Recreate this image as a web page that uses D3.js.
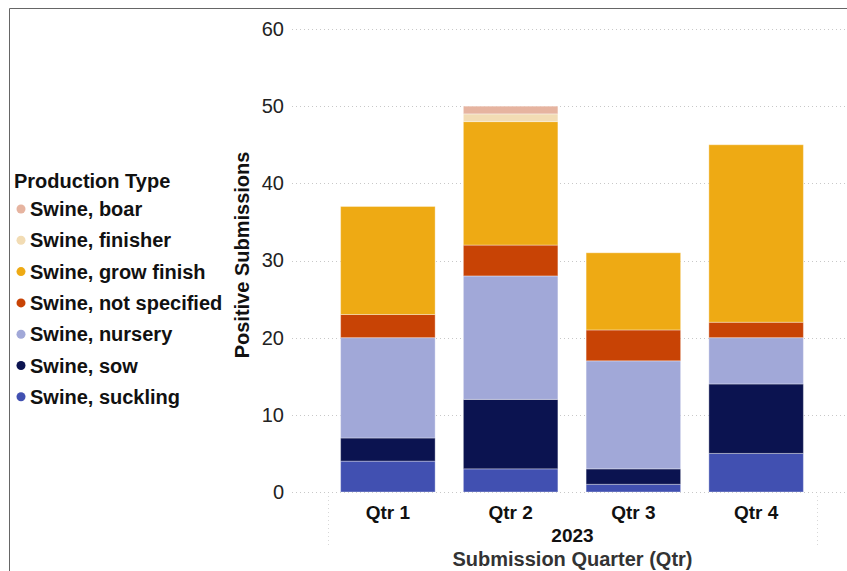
<!DOCTYPE html>
<html>
<head>
<meta charset="utf-8">
<script src="https://cdn.jsdelivr.net/npm/d3@7"></script>
<style>
  html, body { margin: 0; padding: 0; background: #fff; }
  svg { display: block; font-family: "Liberation Sans", Arial, sans-serif; }
</style>
</head>
<body>
<svg id="chart" width="847" height="571"></svg>
<script>
// Quarters on the x axis
const quarters = ["Qtr 1", "Qtr 2", "Qtr 3", "Qtr 4"];
// Production types, in stacking order from the bottom up
const types = ["Swine, suckling", "Swine, sow", "Swine, nursery", "Swine, not specified",
               "Swine, grow finish", "Swine, finisher", "Swine, boar"];
const typeColors = ["#4150b1", "#0b1350", "#a1a8d8", "#c84305", "#eeaa14", "#f2dcb4", "#e6b4a0"];
// Positive submissions per quarter for each production type
const suckling     = [4, 3, 1, 5];
const sow          = [3, 9, 2, 9];
const nursery      = [13, 16, 14, 6];
const notSpecified = [3, 4, 4, 2];
const growFinish   = [14, 16, 10, 23];
const finisher     = [0, 1, 0, 0];
const boar         = [0, 1, 0, 0];
const yTicks = [0, 10, 20, 30, 40, 50, 60];
const yearLabel = "2023";

const seriesValues = [suckling, sow, nursery, notSpecified, growFinish, finisher, boar];
const rows = quarters.map((q, i) => {
  const r = { quarter: q };
  types.forEach((t, j) => { r[t] = seriesValues[j][i]; });
  return r;
});

const svg = d3.select("#chart");
const W = 847, H = 571;
const FONT = "'Liberation Sans', Arial, sans-serif";

// outer frame
svg.append("path")
  .attr("d", `M9.5,${H} V8.5 H${W}`)
  .attr("fill", "none").attr("stroke", "#666").attr("stroke-width", 1);

const x = d3.scaleBand().domain(quarters).range([326.5, 817.5]).paddingInner(0.23).paddingOuter(0.115);
const y = d3.scaleLinear().domain([0, 60]).range([492, 29]);
const color = d3.scaleOrdinal().domain(types).range(typeColors);

// horizontal dotted gridlines
svg.append("g").selectAll("line").data(yTicks).join("line")
  .attr("x1", 292).attr("x2", W)
  .attr("y1", d => Math.round(y(d)) + 0.5).attr("y2", d => Math.round(y(d)) + 0.5)
  .attr("stroke", "#c8c8c8").attr("stroke-width", 1).attr("stroke-dasharray", "1,3");

// vertical dotted edges of the x band area
svg.append("g").selectAll("line").data([328, 817]).join("line")
  .attr("x1", d => d + 0.5).attr("x2", d => d + 0.5)
  .attr("y1", 496).attr("y2", 545)
  .attr("stroke", "#d8d8d8").attr("stroke-dasharray", "1,3");

// y axis ticks
const yAxis = d3.axisLeft(y).tickValues(yTicks).tickSize(0).tickPadding(0);
const yg = svg.append("g").attr("transform", "translate(284,0)").call(yAxis);
yg.select(".domain").remove();
yg.selectAll("text").attr("font-size", 20).attr("fill", "#222").attr("font-family", FONT);

// stacked bars
const stack = d3.stack().keys(types)(rows);
svg.append("g").selectAll("g").data(stack).join("g")
  .attr("fill", d => color(d.key))
  .selectAll("rect").data(d => d.filter(p => p[1] - p[0] > 0)).join("rect")
  .attr("x", d => x(d.data.quarter))
  .attr("width", x.bandwidth())
  .attr("y", d => y(d[1]))
  .attr("height", d => y(d[0]) - y(d[1]))
  .attr("stroke", "rgba(255,255,255,0.35)").attr("stroke-width", 1);

// x axis labels
const xAxis = d3.axisBottom(x).tickSize(0).tickPadding(0);
const xg = svg.append("g").attr("transform", "translate(0,505)").call(xAxis);
xg.select(".domain").remove();
xg.selectAll("text").attr("font-size", 19).attr("font-weight", "bold").attr("fill", "#111")
  .attr("font-family", FONT);

svg.append("text").attr("x", (328 + 817) / 2).attr("y", 542)
  .attr("text-anchor", "middle").attr("font-size", 19).attr("font-weight", "bold").attr("fill", "#111")
  .text(yearLabel);

svg.append("text").attr("x", (328 + 817) / 2).attr("y", 566)
  .attr("text-anchor", "middle").attr("font-size", 20).attr("font-weight", "bold").attr("fill", "#333")
  .text("Submission Quarter (Qtr)");

// y axis title
svg.append("text").attr("transform", "translate(249,255) rotate(-90)")
  .attr("text-anchor", "middle").attr("font-size", 20).attr("font-weight", "bold").attr("fill", "#111")
  .text("Positive Submissions");

// legend (top entry first)
const legend = svg.append("g");
legend.append("text").attr("x", 14).attr("y", 188)
  .attr("font-size", 20).attr("font-weight", "bold").attr("fill", "#111").text("Production Type");
const legendTypes = types.slice().reverse();
const li = legend.selectAll("g.item").data(legendTypes).join("g").attr("class", "item")
  .attr("transform", (d, i) => `translate(0,${209 + i * 31.3})`);
li.append("circle").attr("cx", 21).attr("cy", 0).attr("r", 4.5).attr("fill", d => color(d));
li.append("text").attr("x", 30).attr("y", 7)
  .attr("font-size", 20).attr("font-weight", "bold").attr("fill", "#111").text(d => d);
</script>
</body>
</html>
